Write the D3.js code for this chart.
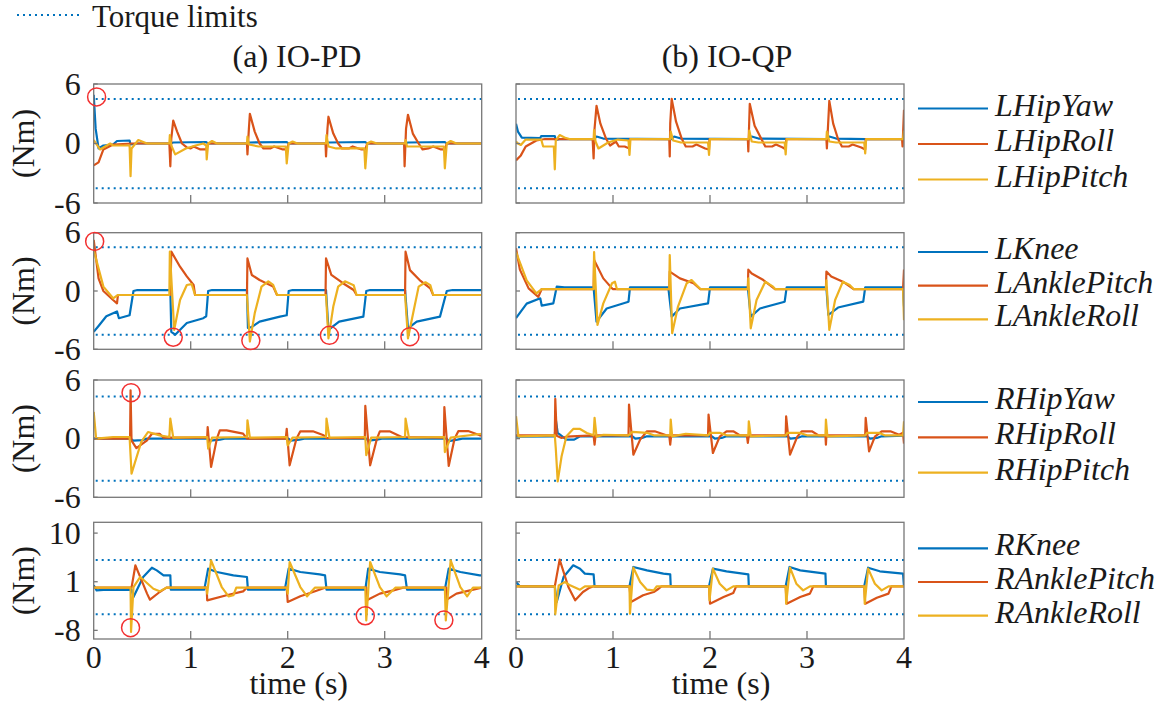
<!DOCTYPE html>
<html>
<head>
<meta charset="utf-8">
<script src="https://cdn.jsdelivr.net/npm/d3@7"></script>
<style>
  body { margin: 0; background: #fff; }
</style>
</head>
<body>
<div id="chart"></div>
<script>
// ---- data (time in s, torque in Nm) ----
const xTicks = [0, 1, 2, 3, 4];
const panelTitles = ["(a) IO-PD", "(b) IO-QP"];
const jointNames = [
  ["LHipYaw", "LHipRoll", "LHipPitch"],
  ["LKnee", "LAnklePitch", "LAnkleRoll"],
  ["RHipYaw", "RHipRoll", "RHipPitch"],
  ["RKnee", "RAnklePitch", "RAnkleRoll"]
];
const yDomains = [[-6, 6], [-6, 6], [-6, 6], [-9.6, 12]];
const yTicks = [[-6, 0, 6], [-6, 0, 6], [-6, 0, 6], [-8, 1, 10]];
const torqueLimits = [4.5, 4.5, 4.3, 5];
// [row, t, value] of highlighted limit violations in IO-PD
const violations = [
  [0, 0.03, 4.7],
  [1, 0.01, 5.1], [1, 0.82, -4.76], [1, 1.62, -5.1], [1, 2.43, -4.56], [1, 3.26, -4.7],
  [2, 0.385, 4.7],
  [3, 0.38, -7.5], [3, 2.8, -5.3], [3, 3.61, -6.1]
];

// IO-PD
const lHipYawPD = [[0,4.9],[0.02,1.5],[0.05,-0.5],[0.1,-0.2],[0.2,-0.1],[0.24,0.25],[0.37,0.3],[0.38,-0.1],[0.45,0],[0.79,0],[0.82,0.1],[1.16,0.15],[1.18,0],[1.58,0],[1.61,0.1],[1.99,0.15],[2.01,0],[2.4,0],[2.42,0.1],[2.8,0.15],[2.82,0],[3.21,0],[3.24,0.1],[3.62,0.15],[3.64,0],[4,0]];
const lHipRollPD = [[0,-2.2],[0.05,-1.9],[0.1,-0.6],[0.2,-0.1],[0.4,0],[0.78,0],[0.79,-2.3],[0.8,0.5],[0.82,2.3],[0.86,1.2],[0.91,0],[0.96,-0.4],[1.0,-0.5],[1.03,-0.3],[1.1,-0.6],[1.16,-0.6],[1.18,0],[1.58,0],[1.585,-1.1],[1.6,1.5],[1.61,3.0],[1.66,1.2],[1.71,0],[1.75,-0.5],[1.82,-0.5],[1.86,-0.3],[1.95,-0.6],[1.99,-0.6],[2.01,0],[2.39,0],[2.395,-1.3],[2.41,1.5],[2.42,2.7],[2.47,1.0],[2.52,0],[2.56,-0.5],[2.63,-0.5],[2.67,-0.3],[2.76,-0.6],[2.8,-0.6],[2.82,0],[3.2,0],[3.205,-2.3],[3.22,1.5],[3.24,2.9],[3.29,1.0],[3.35,0],[3.39,-0.6],[3.45,-0.5],[3.5,-0.3],[3.58,-0.6],[3.62,-0.6],[3.64,0],[4,0]];
const lHipPitchPD = [[0,0.35],[0.065,-0.6],[0.17,0],[0.2,-0.2],[0.37,-0.2],[0.38,-3.3],[0.39,-0.5],[0.46,0.35],[0.55,0],[0.78,0],[0.785,0.85],[0.8,-0.2],[0.84,-1.1],[0.95,-0.5],[1.05,-0.2],[1.13,0],[1.16,-0.2],[1.165,-1.6],[1.18,0],[1.22,0.25],[1.27,0],[1.58,0],[1.585,0.7],[1.6,-0.1],[1.7,-0.3],[1.98,-0.3],[1.99,-2.0],[2.01,0],[2.05,0.2],[2.1,0],[2.395,0],[2.4,0.85],[2.42,-0.3],[2.5,-0.5],[2.79,-0.5],[2.8,-2.5],[2.82,0],[2.86,0.2],[2.92,0],[3.21,0],[3.215,0.35],[3.23,-0.3],[3.61,-0.3],[3.62,-2.5],[3.64,0],[3.68,0.25],[3.74,0],[4,0]];

const lKneePD = [[0,-4.2],[0.05,-3.6],[0.13,-2.6],[0.24,-2.1],[0.26,-2.8],[0.37,-2.5],[0.41,0],[0.45,0.1],[0.79,0.1],[0.8,-4.2],[0.84,-4.5],[0.96,-3.3],[1.13,-2.8],[1.16,-2.6],[1.18,0],[1.22,0.1],[1.58,0.1],[1.59,-3.8],[1.63,-3.7],[1.71,-3.15],[1.92,-2.64],[1.99,-2.5],[2.01,0],[2.05,0.1],[2.395,0.1],[2.42,-4.0],[2.53,-3.15],[2.78,-2.64],[2.81,0],[2.85,0.1],[3.21,0.1],[3.24,-3.84],[3.33,-3.15],[3.57,-2.64],[3.64,0],[3.7,0.1],[4,0.1]];
const lAnklePitchPD = [[0,5.25],[0.05,1.3],[0.1,0],[0.2,-0.93],[0.24,-1.27],[0.25,-0.41],[0.79,-0.41],[0.8,4.05],[0.89,2.5],[0.96,1.5],[1.03,0.62],[1.045,-0.41],[1.58,-0.41],[1.585,3.35],[1.63,1.65],[1.71,1.13],[1.85,0.45],[1.89,-0.41],[2.39,-0.41],[2.395,3.35],[2.45,1.65],[2.57,0.8],[2.68,0.1],[2.71,-0.41],[3.21,-0.41],[3.215,4.05],[3.26,2.15],[3.36,1.13],[3.47,0.27],[3.5,-0.41],[4,-0.41]];
const lAnkleRollPD = [[0,4.2],[0.1,0.45],[0.2,-0.75],[0.25,-0.41],[0.78,-0.41],[0.785,4.05],[0.83,-4.0],[0.89,-0.93],[0.96,0.62],[1.01,0.7],[1.045,-0.41],[1.58,-0.41],[1.61,-5.2],[1.66,-2.3],[1.73,0.45],[1.8,1.0],[1.85,0.62],[1.89,-0.41],[2.395,-0.41],[2.42,-4.87],[2.47,-1.6],[2.52,0.45],[2.59,1.0],[2.68,0.6],[2.71,-0.41],[3.21,-0.41],[3.24,-4.87],[3.3,-1.95],[3.35,0.45],[3.42,0.9],[3.47,0.6],[3.5,-0.41],[4,-0.41]];

const rHipYawPD = [[0,0],[0.38,0],[0.41,-0.2],[0.5,-0.15],[0.55,0],[1.18,0],[1.2,-0.2],[1.3,-0.1],[1.35,0],[2.01,0],[2.03,-0.2],[2.12,-0.1],[2.17,0],[2.81,0],[2.83,-0.2],[2.92,-0.1],[2.97,0],[3.64,0],[3.66,-0.25],[3.75,-0.1],[3.8,0],[4,0]];
const rHipRollPD = [[0,0],[0.375,0],[0.38,4.95],[0.39,-0.2],[0.44,-0.96],[0.55,-0.17],[0.6,0.5],[0.68,0.5],[0.72,0.1],[1.17,0.1],[1.175,1.19],[1.21,-2.9],[1.27,0],[1.3,0.85],[1.37,0.85],[1.54,0.51],[1.58,0],[1.98,0],[1.99,1.0],[2.02,-2.73],[2.09,0],[2.13,0.75],[2.26,0.75],[2.37,0.34],[2.4,0.05],[2.795,0.05],[2.8,3.35],[2.85,-2.73],[2.92,0],[2.95,0.75],[3.05,0.75],[3.175,0.17],[3.61,0.1],[3.615,3.24],[3.66,-2.8],[3.72,0],[3.76,0.78],[3.86,0.78],[3.98,0.34],[4,0.3]];
const rHipPitchPD = [[0,2.73],[0.025,0],[0.2,0.17],[0.37,0.17],[0.39,-3.58],[0.49,-0.34],[0.56,0.68],[0.68,0.34],[0.78,0.17],[0.79,2.05],[0.82,0.1],[1.17,0.17],[1.18,-1.02],[1.22,0.1],[1.58,0.17],[1.585,1.88],[1.61,0.1],[1.99,0.17],[2.0,-0.68],[2.05,0.1],[2.395,0.17],[2.4,2.05],[2.43,0.1],[2.8,0.17],[2.81,-1.7],[2.86,0.1],[3.21,0.17],[3.215,2.05],[3.25,0.1],[3.615,0.17],[3.62,-1.37],[3.68,0.1],[4,0.5]];

const rKneePD = [[0,0.33],[0.03,-0.6],[0.1,-0.5],[0.39,-0.47],[0.41,-1.83],[0.51,1.88],[0.6,3.6],[0.65,3.1],[0.72,2.19],[0.79,2.19],[0.795,-0.47],[1.14,-0.47],[1.18,3.42],[1.27,2.8],[1.44,2.19],[1.58,1.88],[1.59,-0.47],[1.97,-0.47],[2.01,3.42],[2.13,2.8],[2.33,2.37],[2.385,2.19],[2.40,-0.47],[2.8,-0.47],[2.83,3.42],[2.95,2.8],[3.16,2.37],[3.21,2.19],[3.23,-0.47],[3.62,-0.47],[3.66,3.42],[3.78,2.8],[3.98,2.19],[4,2.19]];
const rAnklePitchPD = [[0,-0.1],[0.39,-0.1],[0.43,4.04],[0.55,-1.2],[0.58,-2.32],[0.68,-0.9],[0.75,-0.1],[1.165,-0.1],[1.17,-2.44],[1.37,-1.5],[1.54,-0.78],[1.58,-0.1],[1.99,-0.1],[2.0,-2.75],[2.13,-1.7],[2.26,-0.9],[2.385,-0.1],[2.81,-0.1],[2.815,-2.44],[2.95,-1.2],[3.09,-0.6],[3.19,-0.1],[3.635,-0.1],[3.64,-2.32],[3.74,-1.2],[3.88,-0.6],[4,-0.1]];
const rAnkleRollPD = [[0,-0.1],[0.38,-0.1],[0.385,-8.3],[0.41,0.0],[0.48,1.88],[0.615,-0.3],[0.68,-0.78],[0.75,-0.1],[1.165,-0.1],[1.17,-1.2],[1.21,4.96],[1.32,0.02],[1.39,-1.7],[1.44,-1.5],[1.47,-0.1],[1.99,-0.1],[2.0,-1.2],[2.02,4.65],[2.13,0.02],[2.2,-1.7],[2.28,-0.1],[2.8,-0.1],[2.81,-6.15],[2.85,4.65],[2.95,0.02],[3.02,-1.7],[3.11,-0.1],[3.62,-0.1],[3.63,-6.15],[3.68,4.96],[3.78,0.02],[3.85,-1.7],[3.91,-0.1],[4,-0.1]];

// IO-QP
const lHipYawQP = [[0,2.0],[0.02,1.2],[0.06,0.6],[0.25,0.55],[0.26,0.75],[0.4,0.75],[0.41,0.35],[0.46,0.45],[0.8,0.45],[0.83,0.7],[0.9,0.5],[1.6,0.45],[1.63,0.7],[1.7,0.5],[2.4,0.45],[2.43,0.7],[2.5,0.5],[3.2,0.45],[3.23,0.7],[3.3,0.5],[3.6,0.45],[4,0.45]];
const lHipRollQP = [[0,-1.7],[0.05,-1.2],[0.1,-0.3],[0.21,0.3],[0.3,0.45],[0.79,0.45],[0.8,-1.5],[0.81,1.5],[0.83,3.8],[0.87,2.0],[0.93,0.45],[0.97,-0.2],[1.03,0.2],[1.06,-0.3],[1.12,-0.3],[1.17,-0.5],[1.175,0.45],[1.58,0.45],[1.585,-1.3],[1.59,2.0],[1.605,4.5],[1.65,2.2],[1.71,0.45],[1.75,-0.3],[1.82,-0.3],[1.86,-0.1],[1.95,-0.5],[1.99,-0.6],[1.995,0.45],[2.39,0.45],[2.395,-0.8],[2.41,4.0],[2.46,1.8],[2.53,0.45],[2.57,-0.3],[2.64,-0.3],[2.68,-0.1],[2.75,-0.4],[2.78,-0.6],[2.785,0.45],[3.2,0.45],[3.205,-0.5],[3.23,4.3],[3.27,2.0],[3.32,0.45],[3.36,-0.3],[3.43,-0.3],[3.47,-0.1],[3.56,-0.4],[3.6,-0.6],[3.605,0.45],[3.98,0.45],[3.985,-0.3],[4.0,3.4]];
const lHipPitchQP = [[0,0.2],[0.02,0.0],[0.05,-0.15],[0.1,0.4],[0.26,0.4],[0.28,-0.3],[0.39,-0.3],[0.4,-2.6],[0.41,0.3],[0.45,0.85],[0.5,0.6],[0.55,0.45],[0.8,0.45],[0.805,1.35],[0.82,0.2],[0.85,-0.5],[0.95,0.1],[1.05,0.4],[1.16,0.3],[1.17,-1.15],[1.18,0.45],[1.59,0.45],[1.595,1.2],[1.62,0.3],[1.7,0.1],[1.98,0.1],[1.99,-1.15],[2.0,0.45],[2.4,0.45],[2.405,1.3],[2.43,0.2],[2.5,0.1],[2.77,0.1],[2.78,-1.1],[2.79,0.45],[3.2,0.45],[3.205,1.2],[3.23,0.2],[3.3,0.1],[3.59,0.1],[3.6,-1.0],[3.61,0.45],[3.99,0.45],[4.0,1.3]];

const lKneeQP = [[0,-2.8],[0.11,-1.3],[0.25,-0.75],[0.265,-1.5],[0.385,-1.27],[0.42,0.45],[0.5,0.38],[0.8,0.38],[0.83,-3.15],[0.935,-1.8],[1.16,-1.1],[1.175,0.38],[1.57,0.38],[1.605,-2.64],[1.69,-1.8],[1.98,-1.27],[2.0,0.38],[2.39,0.38],[2.42,-2.64],[2.515,-1.8],[2.77,-1.1],[2.79,0.38],[3.2,0.38],[3.22,-2.47],[3.32,-1.7],[3.58,-1.1],[3.6,0.38],[3.99,0.38],[4.0,-1.6]];
const lAnklePitchQP = [[0,4.4],[0.04,2.2],[0.13,0.27],[0.23,-0.6],[0.265,0.2],[0.8,0.2],[0.805,3.2],[0.9,1.3],[0.99,0.27],[1.0,0.2],[1.58,0.2],[1.585,2.0],[1.69,1.3],[1.83,0.8],[1.9,0.2],[2.39,0.2],[2.395,2.2],[2.43,1.8],[2.55,1.13],[2.67,0.2],[3.195,0.2],[3.2,2.0],[3.25,1.5],[3.37,0.96],[3.48,0.2],[3.99,0.2],[4.0,2.2]];
const lAnkleRollQP = [[0,4.0],[0.11,1.1],[0.21,-0.25],[0.265,0.2],[0.8,0.2],[0.805,4.0],[0.84,-3.5],[0.9,-1.27],[0.99,0.8],[1.02,0.96],[1.04,0.2],[1.58,0.2],[1.585,3.7],[1.61,-4.35],[1.67,-1.6],[1.76,0.8],[1.81,1.13],[1.86,0.62],[1.9,0.2],[2.39,0.2],[2.395,1.3],[2.42,-3.84],[2.48,-0.93],[2.57,0.96],[2.65,0.45],[2.67,0.2],[3.195,0.2],[3.2,1.1],[3.23,-4.0],[3.29,-0.93],[3.37,0.96],[3.44,0.62],[3.48,0.2],[3.99,0.2],[4.0,-3.0]];

const rHipYawQP = [[0,0.2],[0.4,0.24],[0.41,2.0],[0.43,0.6],[0.52,-0.1],[0.6,-0.1],[0.66,0.24],[1.2,0.24],[1.23,0.0],[1.3,0.07],[1.35,0.24],[2.02,0.24],[2.05,0.0],[2.12,0.07],[2.17,0.24],[2.8,0.24],[2.83,0.0],[2.9,0.07],[2.95,0.24],[3.62,0.24],[3.65,0.0],[3.72,0.07],[3.77,0.24],[4,0.3]];
const rHipRollQP = [[0,0.34],[0.4,0.34],[0.405,4.06],[0.42,0.3],[0.47,0.07],[0.52,0.2],[0.8,0.34],[0.81,-0.61],[0.82,0.34],[1.16,0.34],[1.165,3.48],[1.21,-1.64],[1.28,-0.1],[1.35,0.75],[1.43,0.75],[1.55,0.34],[1.58,0.34],[1.59,-0.61],[1.6,0.34],[1.98,0.34],[1.985,2.46],[2.03,-1.47],[2.1,0.2],[2.17,0.75],[2.24,0.75],[2.31,0.34],[2.38,0.34],[2.39,-0.44],[2.4,0.34],[2.78,0.34],[2.785,2.29],[2.825,-1.64],[2.9,0.2],[2.945,0.75],[3.05,0.75],[3.12,0.34],[3.19,0.34],[3.195,-0.61],[3.2,0.34],[3.6,0.34],[3.605,2.12],[3.64,-1.3],[3.7,0.2],[3.77,0.75],[3.86,0.75],[3.95,0.4],[3.99,0.6],[4,-0.5]];
const rHipPitchQP = [[0,2.3],[0.025,0.24],[0.4,0.34],[0.41,-1.0],[0.43,-4.37],[0.47,-1.8],[0.52,0.24],[0.59,0.99],[0.66,0.99],[0.73,0.58],[0.8,0.34],[0.81,2.12],[0.83,0.2],[0.9,0.4],[1.16,0.34],[1.2,0.7],[1.35,0.6],[1.42,0.34],[1.59,0.34],[1.595,1.95],[1.61,0.24],[1.75,0.5],[1.98,0.34],[2.0,0.6],[2.1,0.6],[2.17,0.34],[2.395,0.34],[2.4,1.77],[2.42,0.24],[2.78,0.34],[2.8,0.6],[2.92,0.6],[3.0,0.34],[3.19,0.34],[3.195,1.95],[3.21,0.24],[3.6,0.34],[3.62,0.6],[3.74,0.6],[3.8,0.34],[3.99,0.34],[4.0,1.77]];

const rKneeQP = [[0,0.95],[0.04,0.15],[0.4,0.15],[0.42,-2.75],[0.49,1.88],[0.59,4.04],[0.66,3.42],[0.71,2.5],[0.8,2.37],[0.81,0.15],[1.17,0.15],[1.21,3.73],[1.35,3.1],[1.52,2.5],[1.59,2.37],[1.595,0.15],[1.99,0.15],[2.03,3.42],[2.17,2.93],[2.395,2.37],[2.4,0.15],[2.78,0.15],[2.82,3.73],[2.93,3.1],[3.19,2.5],[3.195,0.15],[3.59,0.15],[3.63,3.6],[3.75,2.93],[3.99,2.5],[4,0.15]];
const rAnklePitchQP = [[0,0.15],[0.4,0.15],[0.45,5.09],[0.54,0.02],[0.61,-2.44],[0.69,-0.9],[0.76,-0.1],[0.8,0.15],[1.17,0.15],[1.185,-2.75],[1.31,-1.5],[1.42,-0.9],[1.47,-0.3],[1.5,0.15],[1.99,0.15],[2.0,-3.06],[2.14,-1.83],[2.24,-1.09],[2.27,0.15],[2.78,0.15],[2.79,-3.06],[2.93,-1.83],[3.03,-1.2],[3.065,0.15],[3.59,0.15],[3.6,-3.06],[3.72,-1.95],[3.84,-1.2],[3.87,0.15],[4,0.15]];
const rAnkleRollQP = [[0,0.15],[0.4,0.15],[0.405,-5.0],[0.44,0.33],[0.505,0.95],[0.557,0.33],[0.66,-0.47],[0.71,0.15],[1.17,0.15],[1.175,-4.9],[1.21,3.6],[1.28,0.95],[1.35,-0.47],[1.42,-0.6],[1.45,0.15],[1.99,0.15],[1.995,-2.44],[2.03,3.42],[2.10,0.64],[2.17,-0.6],[2.24,0.15],[2.78,0.15],[2.785,-3.06],[2.825,3.6],[2.89,0.64],[2.96,-0.6],[3.03,0.15],[3.59,0.15],[3.595,-3.06],[3.63,3.42],[3.70,0.64],[3.77,-0.6],[3.84,0.15],[4,0.15]];

const seriesPD = [
  [lHipYawPD, lHipRollPD, lHipPitchPD],
  [lKneePD, lAnklePitchPD, lAnkleRollPD],
  [rHipYawPD, rHipRollPD, rHipPitchPD],
  [rKneePD, rAnklePitchPD, rAnkleRollPD]
];
const seriesQP = [
  [lHipYawQP, lHipRollQP, lHipPitchQP],
  [lKneeQP, lAnklePitchQP, lAnkleRollQP],
  [rHipYawQP, rHipRollQP, rHipPitchQP],
  [rKneeQP, rAnklePitchQP, rAnkleRollQP]
];

// ---- layout ----
const width = 1166, height = 711;
const colors = ["#0072BD", "#D95319", "#EDB120"];
const colLeft = [93.7, 516];
const colWidth = 388;
const rowTop = [84, 232.7, 380, 522.3];
const rowBottom = [203, 349.3, 497.3, 639];
const legendMid = [144, 285.7, 437.3, 582];
const legendGap = [35.5, 33.7, 35.3, 33.7];
const FONT = 32;
const SERIF = "'Liberation Serif', 'Times New Roman', Times, serif";

const svg = d3.select("#chart").append("svg")
  .attr("width", width)
  .attr("height", height)
  .attr("font-family", SERIF)
  .style("font-family", SERIF);

// top legend: torque limits
svg.append("line")
  .attr("x1", 17).attr("x2", 80).attr("y1", 15).attr("y2", 15)
  .attr("stroke", colors[0]).attr("stroke-width", 2)
  .attr("stroke-dasharray", "2 4");
svg.append("text")
  .attr("x", 92).attr("y", 27)
  .attr("font-size", 31)
  .attr("fill", "#1a1a1a")
  .text("Torque limits");

// panel titles
const titleX = [297, 727];
panelTitles.forEach((t, c) => {
  svg.append("text")
    .attr("x", titleX[c]).attr("y", 67)
    .attr("text-anchor", "middle")
    .attr("font-size", FONT)
    .attr("fill", "#1a1a1a")
    .text(t);
});

const line = d3.line();

[seriesPD, seriesQP].forEach((panelSeries, c) => {
  const x = d3.scaleLinear().domain([0, 4]).range([colLeft[c], colLeft[c] + colWidth]);

  panelSeries.forEach((rowSeries, r) => {
    const y = d3.scaleLinear().domain(yDomains[r]).range([rowBottom[r], rowTop[r]]);
    const g = svg.append("g");

    const clipId = `clip-${c}-${r}`;
    g.append("clipPath").attr("id", clipId)
      .append("rect")
      .attr("x", x(0)).attr("y", y.range()[1])
      .attr("width", x(4) - x(0)).attr("height", y.range()[0] - y.range()[1]);

    // torque limit lines
    [torqueLimits[r], -torqueLimits[r]].forEach(l => {
      g.append("line")
        .attr("x1", x(0) + 2).attr("x2", x(4))
        .attr("y1", y(l)).attr("y2", y(l))
        .attr("stroke", colors[0]).attr("stroke-width", 2)
        .attr("stroke-dasharray", "2 4");
    });

    // joint torque curves
    const plot = g.append("g").attr("clip-path", `url(#${clipId})`);
    rowSeries.forEach((s, i) => {
      plot.append("path")
        .attr("d", line(s.map(d => [x(d[0]), y(d[1])])))
        .attr("fill", "none")
        .attr("stroke", colors[i])
        .attr("stroke-width", 2.2)
        .attr("stroke-linejoin", "round");
    });

    // axes box
    g.append("rect")
      .attr("x", x(0)).attr("y", y.range()[1])
      .attr("width", x(4) - x(0)).attr("height", y.range()[0] - y.range()[1])
      .attr("fill", "none").attr("stroke", "#777").attr("stroke-width", 1.3);

    // inward ticks
    xTicks.slice(1, -1).forEach(t => {
      g.append("line")
        .attr("x1", x(t)).attr("x2", x(t))
        .attr("y1", y.range()[0]).attr("y2", y.range()[0] - 8)
        .attr("stroke", "#777").attr("stroke-width", 1.3);
    });
    yTicks[r].forEach(t => {
      g.append("line")
        .attr("x1", x(0)).attr("x2", x(0) + 4)
        .attr("y1", y(t)).attr("y2", y(t))
        .attr("stroke", "#777").attr("stroke-width", 1.3);
    });

    if (c === 0) {
      yTicks[r].forEach(t => {
        g.append("text")
          .attr("x", x(0) - 13).attr("y", y(t)).attr("dy", "0.33em")
          .attr("text-anchor", "end")
          .attr("font-size", FONT)
          .attr("fill", "#1a1a1a")
          .text(t);
      });
      g.append("text")
        .attr("transform", `translate(34,${(rowTop[r] + rowBottom[r]) / 2}) rotate(-90)`)
        .attr("text-anchor", "middle")
        .attr("font-size", FONT)
        .attr("fill", "#1a1a1a")
        .text("(Nm)");
    }

    if (r === 3) {
      xTicks.forEach(t => {
        g.append("text")
          .attr("x", x(t)).attr("y", 668)
          .attr("text-anchor", "middle")
          .attr("font-size", FONT)
          .attr("fill", "#1a1a1a")
          .text(t);
      });
      g.append("text")
        .attr("x", (x(0) + x(4)) / 2 + 11).attr("y", 694)
        .attr("text-anchor", "middle")
        .attr("font-size", FONT)
        .attr("fill", "#1a1a1a")
        .text("time (s)");
    }

    // red circles marking violations
    if (c === 0) {
      violations.filter(v => v[0] === r).forEach(v => {
        g.append("circle")
          .attr("cx", x(v[1])).attr("cy", y(v[2])).attr("r", 9)
          .attr("fill", "none").attr("stroke", "#f23030").attr("stroke-width", 1.5);
      });
    }

    // legend (one per row, right side)
    if (c === 1) {
      jointNames[r].forEach((name, i) => {
        const ly = legendMid[r] + (i - 1) * legendGap[r];
        svg.append("line")
          .attr("x1", 918).attr("x2", 988).attr("y1", ly).attr("y2", ly)
          .attr("stroke", colors[i]).attr("stroke-width", 2.2);
        svg.append("text")
          .attr("x", 995).attr("y", ly + 7)
          .attr("font-size", FONT)
          .attr("font-style", "italic")
          .attr("fill", "#1a1a1a")
          .text(name);
      });
    }
  });
});
</script>
</body>
</html>
